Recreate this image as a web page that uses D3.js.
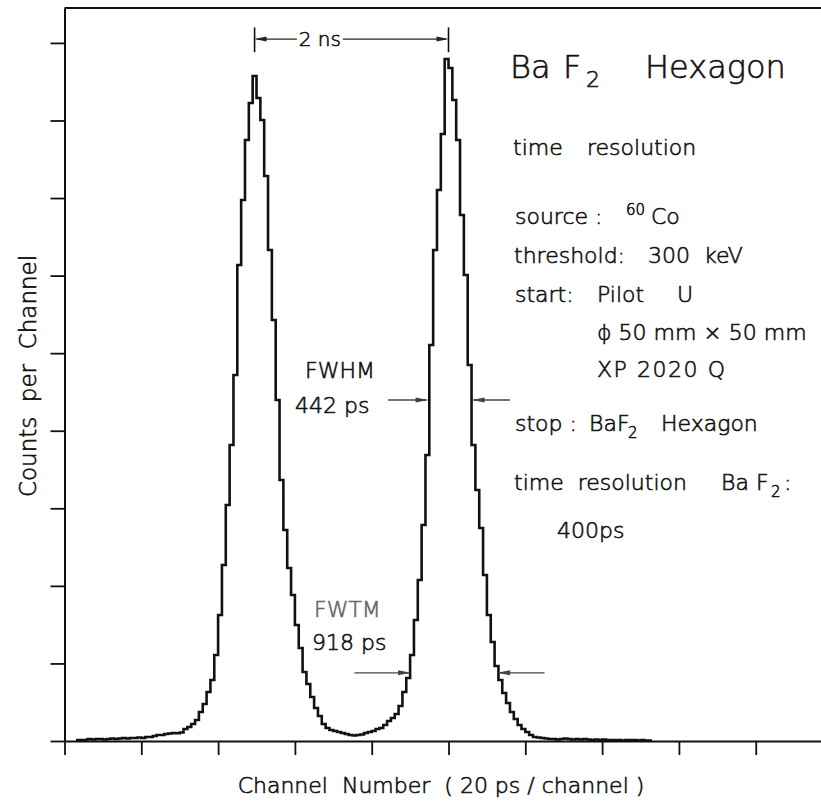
<!DOCTYPE html>
<html>
<head>
<meta charset="utf-8">
<script src="https://cdn.jsdelivr.net/npm/d3@7"></script>
<style>
  html, body { margin: 0; padding: 0; background: #fff; }
  svg text { font-family: "DejaVu Sans", "Liberation Sans", sans-serif; font-weight: 300; fill: #111; stroke: #111; stroke-width: 0.6px; white-space: pre; }
</style>
</head>
<body>
<svg id="chart" width="821" height="807"></svg>
<script>
// ---- data ----
// histogram bins: first channel of each 2-channel bin
const binChannels = d3.range(6, 306, 2);
const binCounts = [
  13, 13, 13, 26, 19, 26, 26, 19, 26, 32,
  26, 32, 39, 32, 39, 39, 45, 39, 52, 52,
  64, 77, 77, 90, 97, 103, 100, 110, 155, 180,
  219, 271, 374, 477, 632, 786, 1109, 1624, 2269, 3043,
  3816, 4718, 6137, 6975, 7748, 8225, 8573, 8289, 8006, 7284,
  6330, 5428, 4396, 3365, 2720, 2230, 1882, 1495, 1199, 890,
  735, 567, 425, 322, 219, 168, 142, 129, 116, 103,
  90, 77, 71, 77, 84, 103, 116, 129, 155, 168,
  206, 258, 297, 348, 451, 632, 812, 1109, 1560, 2076,
  2785, 3687, 5105, 6330, 7103, 7825, 8792, 8676, 8264, 7748,
  6781, 6008, 4847, 3816, 3236, 2746, 2140, 1624, 1276, 967,
  786, 619, 490, 374, 283, 206, 155, 116, 77, 52,
  45, 39, 32, 26, 26, 19, 26, 32, 26, 19,
  26, 19, 26, 19, 13, 19, 13, 19, 13, 13,
  13, 13, 6, 13, 13, 13, 6, 13, 6, 6
];
const xTickValues = [0, 40, 80, 120, 160, 200, 240, 280, 320, 360];
const yTickValues = [0, 1000, 2000, 3000, 4000, 5000, 6000, 7000, 8000, 9000];

// annotation values (data units)
const nsMarker = [99, 200];            // channels of the 2 ns bars
const nsLines = [[99, 121], [145, 200]];
const fwhmLevel = 4396;
const fwhmArrows = [[168.5, 189.6], [232, 212]];
const fwtmLevel = 879;
const fwtmArrows = [[151, 180.5], [250, 225.3]];

// ---- scales ----
const svg = d3.select("#chart");
const x = d3.scaleLinear().domain([0, 394]).range([64.5, 821]);
const y = d3.scaleLinear().domain([0, 9450]).range([741, 8]);

// axes
const yAxis = svg.append("g").attr("transform", `translate(${x(0)},0)`)
  .call(d3.axisLeft(y).tickValues(yTickValues).tickSize(14).tickFormat("").tickSizeOuter(0));
const xAxis = svg.append("g").attr("transform", `translate(0,${y(0)})`)
  .call(d3.axisBottom(x).tickValues(xTickValues).tickSize(14).tickFormat("").tickSizeOuter(0));
[xAxis, yAxis].forEach(g => {
  g.select(".domain").attr("stroke", "#111").attr("stroke-width", 2);
  g.selectAll(".tick line").attr("stroke", "#111").attr("stroke-width", 1.8);
});
// top frame line
svg.append("line")
  .attr("x1", x(0)).attr("x2", x(394)).attr("y1", y(9450)).attr("y2", y(9450))
  .attr("stroke", "#111").attr("stroke-width", 2);

// histogram step line
const pts = binChannels.map((c, i) => [c, binCounts[i]]);
pts.push([binChannels[binChannels.length - 1] + 2, binCounts[binCounts.length - 1]]);
const line = d3.line().x(d => x(d[0])).y(d => y(d[1])).curve(d3.curveStepAfter);
svg.append("path").datum(pts)
  .attr("d", line).attr("fill", "none").attr("stroke", "#111")
  .attr("stroke-width", 2.6).attr("stroke-linejoin", "miter");

// arrow helper: from (c0) to (c1) at level, head at c1
function arrow(c0, c1, level, headLen, col) {
  const x0 = x(c0), x1 = x(c1), yy = y(level);
  const dir = Math.sign(x1 - x0);
  svg.append("line").attr("x1", x0).attr("x2", x1 - dir * 2).attr("y1", yy).attr("y2", yy)
    .attr("stroke", col).attr("stroke-width", 1.3);
  svg.append("path")
    .attr("d", `M${x1},${yy} L${x1 - dir * headLen},${yy - 2.5} L${x1 - dir * headLen},${yy + 2.5} Z`)
    .attr("fill", col);
}
fwhmArrows.forEach(a => arrow(a[0], a[1], fwhmLevel, 13, "#444"));
fwtmArrows.forEach(a => arrow(a[0], a[1], fwtmLevel, 13, "#444"));

// 2 ns marker
const nsTop = 9200, nsBot = 8880, nsMid = 9050;
nsMarker.forEach(c => {
  svg.append("line").attr("x1", x(c)).attr("x2", x(c)).attr("y1", y(nsTop)).attr("y2", y(nsBot))
    .attr("stroke", "#111").attr("stroke-width", 1.6);
});
arrow(nsLines[0][1], nsLines[0][0], nsMid, 12, "#222");
arrow(nsLines[1][0], nsLines[1][1], nsMid, 12, "#222");
svg.append("text").attr("x", x(133)).attr("y", y(nsMid) + 7).attr("text-anchor", "middle")
  .attr("font-size", 20).text("2 ns");

// ---- texts ----
function txt(xp, yp, s, size, extra) {
  const t = svg.append("text").attr("x", xp).attr("y", yp).attr("font-size", size).text(s);
  if (extra) extra(t);
  return t;
}
// title
txt(510, 78, "Ba", 32);
txt(563, 78, "F", 32);
txt(586, 87, "2", 22);
txt(645, 78, "Hexagon", 32);

const fs = 22;
txt(513, 155, "time", fs);
txt(587, 155, "resolution", fs);
txt(515, 224, "source :", fs);
txt(626, 215, "60", 15);
txt(651, 224, "Co", fs);
txt(514, 263, "threshold:", fs);
txt(648, 263, "300", fs);
txt(704, 263, "keV", fs);
txt(515, 302, "start:", fs);
txt(597, 302, "Pilot", fs);
txt(677, 302, "U", fs);
txt(597, 340, "\u03D5 50 mm \u00D7 50 mm", fs);
txt(597, 377, "XP 2020 Q", fs, t => t.attr("textLength", 128).attr("lengthAdjust", "spacing"));
txt(515, 431, "stop :", fs);
txt(589, 431, "BaF", fs);
txt(628, 438, "2", 15);
txt(661, 431, "Hexagon", fs);
txt(514, 490, "time  resolution", fs);
txt(721, 490, "Ba F", fs);
txt(771, 497, "2", 15);
txt(784, 490, ":", fs);
txt(557, 538, "400ps", fs);

txt(305, 378, "FWHM", fs);
txt(295, 413, "442 ps", fs);
txt(314, 617, "FWTM", fs, t => t.style("fill", "#666").style("stroke", "#666"));
txt(312, 650, "918 ps", fs);

// axis titles
svg.append("text").attr("transform", "translate(36,376) rotate(-90)")
  .attr("text-anchor", "middle").attr("font-size", 23).text("Counts  per  Channel");
svg.append("text").attr("x", 441).attr("y", 793)
  .attr("text-anchor", "middle").attr("font-size", fs).text("Channel  Number  ( 20 ps / channel )");
</script>
</body>
</html>
